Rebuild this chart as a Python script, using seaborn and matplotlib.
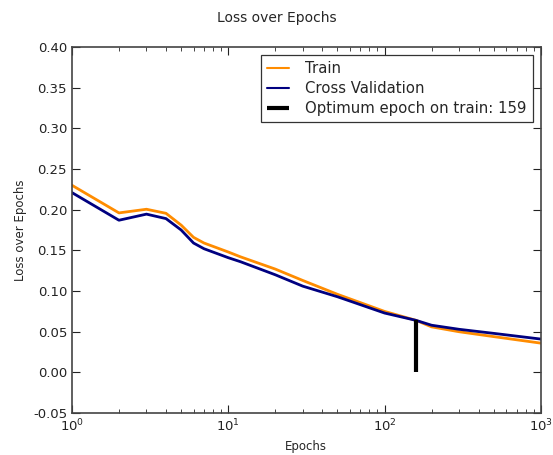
import pandas as pd
import seaborn as sns
import matplotlib.pyplot as plt

# === data ===
epochs = [1, 2, 3, 4, 5, 6, 7, 10, 12, 20, 30, 50, 100, 159, 200, 300, 500, 1000]
train_loss = [0.230, 0.196, 0.2005, 0.1955, 0.181, 0.166, 0.159, 0.148, 0.142,
              0.127, 0.113, 0.096, 0.075, 0.064, 0.056, 0.050, 0.044, 0.036]
cv_loss = [0.221, 0.187, 0.1945, 0.189, 0.175, 0.159, 0.152, 0.141, 0.136,
           0.120, 0.106, 0.093, 0.073, 0.064, 0.058, 0.053, 0.048, 0.041]
best_epoch = 159
best_loss = 0.064

df = pd.concat([
    pd.DataFrame({"Epochs": epochs, "Loss": train_loss, "Set": "Train"}),
    pd.DataFrame({"Epochs": epochs, "Loss": cv_loss, "Set": "Cross Validation"}),
])

# === style (classic matplotlib look) ===
sns.set_style("ticks", {
    "xtick.direction": "in", "ytick.direction": "in",
    "xtick.top": True, "ytick.right": True,
    "axes.edgecolor": "#444444",
})
plt.rcParams["font.family"] = ["DejaVu Sans"]

fig = plt.figure(figsize=(5.53, 4.55), dpi=100)
ax = fig.add_axes([0.130, 0.092, 0.848, 0.805])

sns.lineplot(data=df, x="Epochs", y="Loss", hue="Set",
             palette={"Train": "darkorange", "Cross Validation": "navy"},
             linewidth=2, ax=ax)
ax.vlines(best_epoch, 0, best_loss, color="black", linewidth=3,
          label=f"Optimum epoch on train: {best_epoch}")

ax.set_xscale("log")
ax.set_xlim(1, 1000)
ax.set_ylim(-0.05, 0.40)
ax.set_yticks([-0.05, 0.0, 0.05, 0.10, 0.15, 0.20, 0.25, 0.30, 0.35, 0.40])
ax.yaxis.set_major_formatter(plt.FormatStrFormatter("%.2f"))
ax.tick_params(which="major", length=6, width=0.8, labelsize=9.5, colors="#222222")
ax.tick_params(which="minor", length=3, width=0.6)
for s in ax.spines.values():
    s.set_linewidth(1.2)

ax.set_xlabel("Epochs", fontsize=8.5)
ax.set_ylabel("Loss over Epochs", fontsize=8.5)
fig.suptitle("Loss over Epochs", fontsize=10, y=0.975)

handles, labels = ax.get_legend_handles_labels()
leg = ax.legend(handles, labels, loc="upper right", fontsize=10.7,
                frameon=True, fancybox=False, framealpha=1,
                edgecolor="#333333", borderaxespad=0.55,
                handlelength=1.5, handletextpad=1.1, labelspacing=0.35)
leg.get_frame().set_linewidth(0.9)
for h in leg.legend_handles[:2]:
    h.set_linewidth(1.5)

fig.savefig("out.png", dpi=100)
